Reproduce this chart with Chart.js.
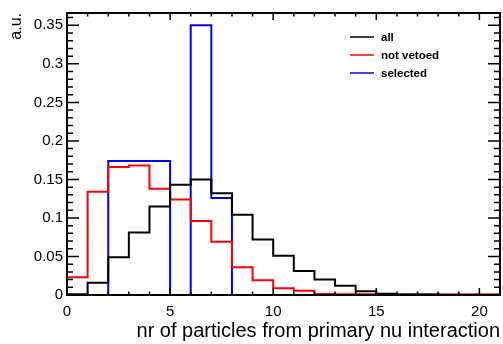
<!DOCTYPE html>
<html>
<head>
<meta charset="utf-8">
<script src="https://cdn.jsdelivr.net/npm/chart.js@4.4.0/dist/chart.umd.min.js"></script>
<style>
  html, body { margin: 0; padding: 0; background: #fff; }
  canvas { display: block; }
</style>
</head>
<body>
<canvas id="histChart" width="503" height="344"></canvas>
<script>
// Histogram contents, one value per unit-wide bin starting at 0
const binEdges = [0, 1, 2, 3, 4, 5, 6, 7, 8, 9, 10, 11, 12, 13, 14, 15, 16, 17, 18, 19, 20, 21];
const allValues = [0.001, 0.016, 0.049, 0.081, 0.115, 0.143, 0.150, 0.132, 0.104, 0.072, 0.051,
                   0.031, 0.020, 0.012, 0.005, 0.0015, 0.0008, 0.0005, 0.0003, 0.0002, 0.0002];
const notVetoedValues = [0.023, 0.134, 0.166, 0.168, 0.138, 0.124, 0.096, 0.069, 0.036, 0.019, 0.0086,
                         0.0055, 0.0012, 0.001, 0.001, 0.0008, 0.0008, 0.0006, 0.0006, 0.0005, 0.0005];
const selectedValues = [0, 0, 0.174, 0.174, 0.174, 0, 0.350, 0.126, 0, 0, 0,
                        0, 0, 0, 0, 0, 0, 0, 0, 0, 0];
const xTickLabels = [0, 5, 10, 15, 20];
const yTickLabels = [0, 0.05, 0.1, 0.15, 0.2, 0.25, 0.3, 0.35];

const xTitle = 'nr of particles from primary nu interaction';
const yTitle = 'a.u.';

// turn bin values into step points (left edge of each bin + closing right edge)
function toSteps(values) {
    const pts = [{ x: binEdges[0], y: 0 }];
    values.forEach((v, i) => pts.push({ x: binEdges[i], y: v }));
    pts.push({ x: binEdges[binEdges.length - 1], y: values[values.length - 1] });
    return pts;
}

function histDataset(label, values, color) {
    return {
        label: label,
        data: toSteps(values),
        borderColor: color,
        backgroundColor: color,
        borderWidth: 2,
        stepped: 'before',
        pointRadius: 0,
        fill: false,
        clip: 4
    };
}

// ROOT-like frame: inside ticks on all four sides, titles and the legend box
const rootFrame = {
    id: 'rootFrame',
    afterDatasetsDraw(chart) {
        const { ctx, chartArea: a, scales: { x, y } } = chart;
        ctx.save();
        ctx.strokeStyle = '#000';
        ctx.lineWidth = 1.5;
        ctx.beginPath();
        for (let v = 0; v <= 21; v++) {
            const px = x.getPixelForValue(v);
            const len = v % 5 === 0 ? 7 : 3.5;
            ctx.moveTo(px, a.bottom); ctx.lineTo(px, a.bottom - len);
            ctx.moveTo(px, a.top); ctx.lineTo(px, a.top + len);
        }
        for (let i = 0; i <= 36; i++) {
            const py = y.getPixelForValue(i / 100);
            const len = i % 5 === 0 ? 12 : 6;
            ctx.moveTo(a.left, py); ctx.lineTo(a.left + len, py);
            ctx.moveTo(a.right, py); ctx.lineTo(a.right - len, py);
        }
        ctx.stroke();
        ctx.lineWidth = 2;
        ctx.strokeRect(a.left, a.top, a.right - a.left, a.bottom - a.top);

        // axis titles
        ctx.fillStyle = '#000';
        ctx.font = '20px "Liberation Sans", Arial, sans-serif';
        ctx.textAlign = 'right';
        ctx.textBaseline = 'alphabetic';
        ctx.fillText(xTitle, a.right, 337);
        ctx.save();
        ctx.translate(21, a.top);
        ctx.rotate(-Math.PI / 2);
        ctx.font = '16px "Liberation Sans", Arial, sans-serif';
        ctx.fillText(yTitle, 0, 0);
        ctx.restore();

        // legend
        ctx.font = 'bold 11.5px "Liberation Sans", Arial, sans-serif';
        ctx.textAlign = 'left';
        ctx.textBaseline = 'middle';
        chart.data.datasets.forEach((ds, i) => {
            const ly = 37 + i * 18;
            ctx.strokeStyle = ds.borderColor;
            ctx.lineWidth = 1.5;
            ctx.beginPath();
            ctx.moveTo(350, ly);
            ctx.lineTo(374, ly);
            ctx.stroke();
            ctx.fillStyle = '#000';
            ctx.fillText(ds.label, 381, ly + 1);
        });
        ctx.restore();
    }
};

const tickFont = { family: '"Liberation Sans", Arial, sans-serif', size: 15 };

const ctxHist = document.getElementById('histChart').getContext('2d');
const histChart = new Chart(ctxHist, {
    type: 'line',
    data: {
        datasets: [
            histDataset('all', allValues, '#000000'),
            histDataset('not vetoed', notVetoedValues, '#ff0000'),
            histDataset('selected', selectedValues, '#0000ff')
        ]
    },
    options: {
        responsive: false,
        animation: false,
        devicePixelRatio: 1,
        layout: { padding: { top: 10, right: 3, left: 0, bottom: 0 } },
        plugins: {
            legend: { display: false },
            tooltip: { enabled: false }
        },
        scales: {
            x: {
                type: 'linear',
                min: 0,
                max: 21,
                grid: { display: false, drawTicks: false },
                border: { display: false },
                afterBuildTicks: (scale) => { scale.ticks = xTickLabels.map(v => ({ value: v })); },
                afterFit: (scale) => { scale.height = 49; },
                ticks: {
                    font: tickFont,
                    color: '#000',
                    padding: 8,
                    autoSkip: false,
                    maxRotation: 0,
                    callback: (v) => String(v)
                }
            },
            y: {
                type: 'linear',
                min: 0,
                max: 0.366,
                grid: { display: false, drawTicks: false },
                border: { display: false },
                afterBuildTicks: (scale) => { scale.ticks = yTickLabels.map(v => ({ value: v })); },
                afterFit: (scale) => { scale.width = 67; },
                ticks: {
                    font: tickFont,
                    color: '#000',
                    padding: 4,
                    autoSkip: false,
                    callback: (v) => String(v)
                }
            }
        }
    },
    plugins: [rootFrame]
});
</script>
</body>
</html>
